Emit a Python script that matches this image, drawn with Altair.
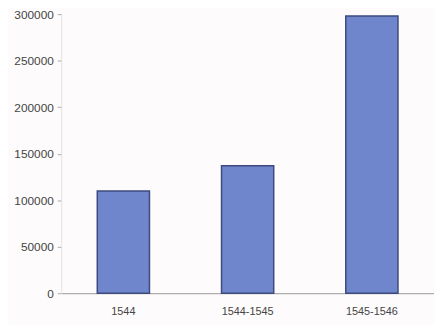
import altair as alt
import pandas as pd

categories = ["1544", "1544-1545", "1545-1546"]
values = [110000, 137000, 298000]

df = pd.DataFrame({"period": categories, "value": values})

chart = alt.Chart(df).mark_bar(
    color="#6f86cc", stroke="#3d4a7e", strokeWidth=1.5
).encode(
    x=alt.X("period:N", sort=categories, title=None,
            scale=alt.Scale(paddingInner=0.58, paddingOuter=0.29),
            axis=alt.Axis(labelAngle=0, labelFont="Liberation Sans", labelFontSize=11,
                          labelColor="#444", ticks=False, domainColor="#999",
                          labelPadding=13)),
    y=alt.Y("value:Q", title=None,
            scale=alt.Scale(domain=[0, 300000]),
            axis=alt.Axis(values=[0, 50000, 100000, 150000, 200000, 250000, 300000],
                          format="d",
                          grid=False, labelFont="Liberation Sans", labelFontSize=12,
                          labelColor="#444", tickColor="#aaa", tickSize=4,
                          domainColor="#e4e4e4", labelPadding=4)),
).properties(
    width=378, height=283,
    autosize=alt.AutoSizeParams(type="none"),
    padding={"left": 54, "top": 4, "right": 0, "bottom": 30},
).configure(background="#fdfbfb").configure_view(stroke=None)

chart.save("out.html", embed_options={"renderer": "svg", "actions": False})
